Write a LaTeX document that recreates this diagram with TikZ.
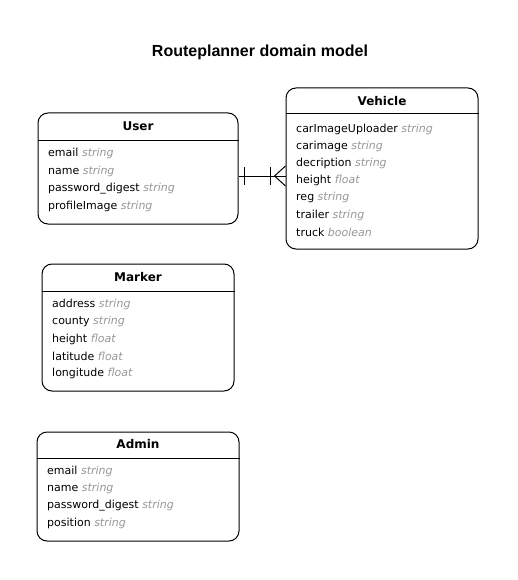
\documentclass[tikz,border=0pt]{standalone}
\usepackage{fontspec}
\setmainfont{DejaVu Sans}
\newfontfamily\titlefont{Liberation Sans}
\usetikzlibrary{calc}
\definecolor{typegray}{RGB}{150,150,150}
\tikzset{
  x=1pt, y=-1pt,
  ent/.style={draw, line width=1pt, rounded corners=10pt, inner sep=0pt},
  enttitle/.style={font=\fontsize{12}{14}\selectfont\bfseries, inner sep=0pt, anchor=center},
  attr/.style={font=\fontsize{11}{13}\selectfont, inner sep=0pt, anchor=west},
  sep/.style={line width=1pt},
  conn/.style={line width=1pt},
}
\newcommand{\ty}[1]{{\color{typegray}\itshape #1}}
\begin{document}
\begin{tikzpicture}
\useasboundingbox (0,0) rectangle (517,580);
\node[font=\titlefont\fontsize{16}{18}\selectfont\bfseries, inner sep=0pt] (title) at (260,52) {Routeplanner domain model};

% User
\node[ent, minimum width=200, minimum height=111] (user) at (138,168.5) {};
\draw[sep] ($(user.north west)+(0,28)$) coordinate (us1) -- (us1 -| user.east);
\node[enttitle] (usert) at (138,126.7) {User};
\node[attr] (u1) at (48,153.3) {email \ty{string}};
\node[attr] (u2) at (48,171) {name \ty{string}};
\node[attr] (u3) at (48,188.7) {password\_digest \ty{string}};
\node[attr] (u4) at (48,206) {profileImage \ty{string}};

% Vehicle
\node[ent, minimum width=192, minimum height=161] (veh) at (382,168.5) {};
\draw[sep] ($(veh.north west)+(0,26)$) coordinate (vs1) -- (vs1 -| veh.east);
\node[enttitle] (veht) at (382,100.7) {Vehicle};
\node[attr] (v1) at (296,129.3) {carImageUploader \ty{string}};
\node[attr] (v2) at (296,146.5) {carimage \ty{string}};
\node[attr] (v3) at (296,163.5) {decription \ty{string}};
\node[attr] (v4) at (296,180.7) {height \ty{float}};
\node[attr] (v5) at (296,197.9) {reg \ty{string}};
\node[attr] (v6) at (296,215.3) {trailer \ty{string}};
\node[attr] (v7) at (296,232.5) {truck \ty{boolean}};

% Marker
\node[ent, minimum width=192, minimum height=127] (mark) at (138,327.5) {};
\draw[sep] ($(mark.north west)+(0,28)$) coordinate (ms1) -- (ms1 -| mark.east);
\node[enttitle] (markt) at (138,276.7) {Marker};
\node[attr] (m1) at (52,304.3) {address \ty{string}};
\node[attr] (m2) at (52,321.7) {county \ty{string}};
\node[attr] (m3) at (52,339.3) {height \ty{float}};
\node[attr] (m4) at (52,356.6) {latitude \ty{float}};
\node[attr] (m5) at (52,373.6) {longitude \ty{float}};

% Admin
\node[ent, minimum width=202, minimum height=109] (adm) at (138,486.5) {};
\draw[sep] ($(adm.north west)+(0,27)$) coordinate (as1) -- (as1 -| adm.east);
\node[enttitle] (admt) at (138,444) {Admin};
\node[attr] (a1) at (47,471) {email \ty{string}};
\node[attr] (a2) at (47,488.7) {name \ty{string}};
\node[attr] (a3) at (47,506) {password\_digest \ty{string}};
\node[attr] (a4) at (47,523.3) {position \ty{string}};

% Connector User -> Vehicle (one to many)
\coordinate (cA) at (user.east |- 0,176);
\coordinate (cB) at (veh.west |- 0,176);
\draw[conn] (cA) -- (cB);
\draw[conn] ($(cA)+(6,-9)$) -- ($(cA)+(6,9)$);
\draw[conn] ($(cB)+(-15,-9)$) -- ($(cB)+(-15,9)$);
\draw[conn] ($(cB)+(0,-10)$) -- ($(cB)+(-11,0)$) -- ($(cB)+(0,10)$);
\end{tikzpicture}
\end{document}
